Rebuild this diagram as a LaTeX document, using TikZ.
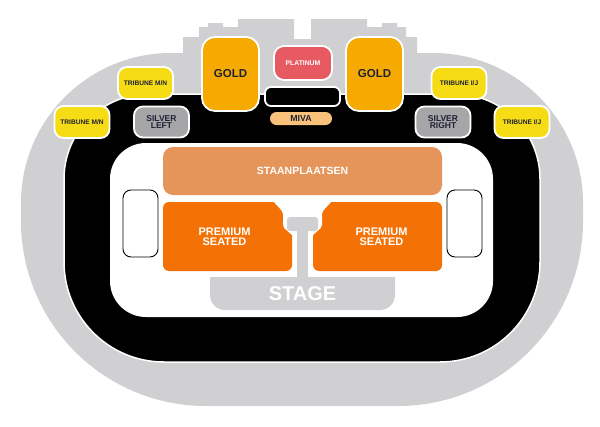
\documentclass[tikz,border=0pt]{standalone}
\usepackage{fontspec}
\setmainfont{Liberation Sans}
\usepackage{xcolor}
\usepackage{tikz}
\definecolor{hall}{HTML}{D0D0D2}
\definecolor{goldc}{HTML}{F6AA00}
\definecolor{platc}{HTML}{E85A62}
\definecolor{mivac}{HTML}{F8C27A}
\definecolor{silverc}{HTML}{A6A6A8}
\definecolor{tribc}{HTML}{F6DC14}
\definecolor{staanc}{HTML}{E5955A}
\definecolor{premc}{HTML}{F47205}
\definecolor{navy}{HTML}{1E2235}

\begin{document}
\begin{tikzpicture}[x=1pt,y=-1pt,
  box/.style={draw=white, line width=1.8pt, inner sep=0pt, align=center, text=navy},
  gate/.style={draw=black, fill=white, line width=0.9pt, rounded corners=8pt,
    minimum width=35pt, minimum height=67pt, inner sep=0pt},
  tribune/.style={box, fill=tribc, rounded corners=9pt, minimum width=55pt, minimum height=32pt,
    font=\fontsize{6.6}{7}\selectfont\bfseries},
  silver/.style={box, fill=silverc, rounded corners=9pt, minimum width=55pt, minimum height=31pt,
    font=\fontsize{8.5}{7.4}\selectfont\bfseries},
  gold/.style={box, fill=goldc, rounded corners=13pt, minimum width=57pt, minimum height=74pt,
    font=\fontsize{11.5}{12}\selectfont\bfseries}]
  \useasboundingbox (0,0) rectangle (600,426);
  \fill[white] (0,0) rectangle (600,426);
  % outer ring
  \fill[hall] (206,406) arc(90:180:185) -- (21,203) arc(180:270:150) -- (433,53)
    arc(270:360:150) -- (583,221) arc(0:90:185) -- cycle;
  \fill[hall] (183,60) -- (183,37) -- (199,37) -- (199,27) -- (208,27) -- (208,23) -- (223,23)
    -- (223,27) -- (238,27) -- (238,19) -- (294,19) -- (294,39) -- (311,39) -- (311,19)
    -- (367,19) -- (367,27) -- (382,27) -- (382,23) -- (397,23) -- (397,27) -- (406,27)
    -- (406,37) -- (417,37) -- (417,60) -- cycle;
  % track
  \filldraw[fill=black, draw=white, line width=1.5pt] (164,362) arc(90:180:100) -- (64,179)
    arc(180:270:85) -- (455,94) arc(270:360:85) -- (540,262) arc(0:90:100) -- cycle;
  % floor
  \fill[white, rounded corners=36pt] (110,143) rectangle (493,317);
  \node[gate] (gateL) at (140.5,223.5) {};
  \node[gate] (gateR) at (464.5,223.5) {};

  % floor sections
  \node[fill=staanc, rounded corners=10pt, minimum width=279pt, minimum height=48pt, inner sep=0pt,
    text=white, font=\fontsize{10.5}{11}\selectfont\bfseries] (staan) at (302.5,171) {STAANPLAATSEN};
  \fill[premc, rounded corners=6pt] (163,202) rectangle (292,271);
  \fill[premc, rounded corners=6pt] (313,202) rectangle (442,271);
  \fill[white] (273,201) -- (294,201) -- (294,235) -- (292,235) [rounded corners=2pt] -- (283,227)
    -- (283,212) [sharp corners] -- cycle;
  \fill[white] (332,201) -- (311,201) -- (311,235) -- (313,235) [rounded corners=2pt] -- (322,227)
    -- (322,212) [sharp corners] -- cycle;
  \node[white, align=center, font=\fontsize{11}{10}\selectfont\bfseries] (premL) at (224.5,237) {PREMIUM\\SEATED};
  \node[white, align=center, font=\fontsize{11}{10}\selectfont\bfseries] (premR) at (381.5,237) {PREMIUM\\SEATED};

  % stage and runway
  \fill[hall] (210,277) -- (210,295) arc(180:90:15) -- (380,310) arc(90:0:15) -- (395,277) -- cycle;
  \fill[hall] (297,229) rectangle (308,278);
  \fill[hall, rounded corners=3pt] (287,217) rectangle (318,231);
  \node[white, font=\fontsize{20}{20}\selectfont\bfseries] (stage) at (302.5,294) {STAGE};

  % top stands
  \node[gold] (goldL) at (230.5,74) {GOLD};
  \node[gold] (goldR) at (374.5,74) {GOLD};
  \node[box, fill=platc, rounded corners=10pt, minimum width=58pt, minimum height=34pt, text=white,
    font=\fontsize{6.8}{7}\selectfont\bfseries] (plat) at (303,63) {PLATINUM};
  \node[box, fill=black, rounded corners=6pt, minimum width=75pt, minimum height=19pt] (boxC) at (302.5,96.5) {};
  \node[box, draw=none, fill=mivac, rounded corners=6.5pt, minimum width=62pt, minimum height=13pt,
    font=\fontsize{8.8}{9}\selectfont\bfseries] (miva) at (301,118.5) {MIVA};
  \node[silver] (silvL) at (161.5,122) {SILVER\\LEFT};
  \node[silver] (silvR) at (443,122) {SILVER\\RIGHT};
  \node[tribune] (tribMNa) at (145.5,83) {TRIBUNE M/N};
  \node[tribune] (tribMNb) at (82,122) {TRIBUNE M/N};
  \node[tribune] (tribIJa) at (459,83) {TRIBUNE I/J};
  \node[tribune] (tribIJb) at (522,122) {TRIBUNE I/J};
\end{tikzpicture}
\end{document}
